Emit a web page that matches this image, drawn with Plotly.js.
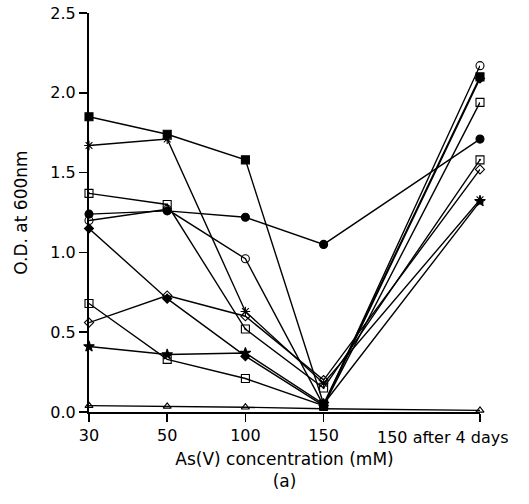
<!DOCTYPE html>
<html>
<head>
<meta charset="utf-8">
<script src="https://cdn.plot.ly/plotly-3.0.1.min.js"></script>
<style>html,body{margin:0;padding:0;background:#fff;}#chart{width:529px;height:504px;}</style>
</head>
<body>
<div id="chart"></div>
<script>
// x positions of the categories (the last category sits two steps further)
const xPos = [0, 1, 2, 3, 5];
const tickLabels = ['30', '50', '100', '150', '150 after 4 days'];

const filledSquare  = [1.85, 1.74, 1.58, 0.05, 2.10];
const asteriskS     = [1.67, 1.71, 0.63, 0.18, 1.33];
const boxedSquare   = [1.37, 1.30, 0.52, 0.15, 1.58];
const filledCircle  = [1.24, 1.26, 1.22, 1.05, 1.71];
const openCircle    = [1.20, 1.27, 0.96, 0.04, 2.17];
const filledDiamond = [1.15, 0.71, 0.35, 0.04, 2.09];
const openSquare    = [0.68, 0.33, 0.21, 0.04, 1.94];
const openDiamond   = [0.56, 0.73, 0.60, 0.20, 1.52];
const starS         = [0.41, 0.36, 0.37, 0.05, 1.32];
const openTriangle  = [0.04, 0.035, 0.03, 0.02, 0.01];

const seriesList = [
  {y: filledSquare, sym: 'square', size: 8},
  {y: asteriskS, sym: 'asterisk-open', size: 8},
  {y: boxedSquare, sym: 'square-open-dot', size: 8},
  {y: filledCircle, sym: 'circle', size: 8},
  {y: openCircle, sym: 'circle-open', size: 8},
  {y: filledDiamond, sym: 'diamond', size: 7},
  {y: openSquare, sym: 'square-open', size: 8},
  {y: openDiamond, sym: 'diamond-open', size: 7},
  {y: starS, sym: 'star', size: 8},
  {y: openTriangle, sym: 'triangle-up-open', size: 7}
];

const traces = seriesList.map(s => ({
  x: xPos, y: s.y, type: 'scatter', mode: 'lines+markers',
  line: {color: '#000', width: 1.4},
  marker: {symbol: s.sym, size: s.size, color: '#000', line: {color: '#000', width: 1.1}},
  cliponaxis: false, showlegend: false, hoverinfo: 'skip'
}));

const tickFont = {family: 'DejaVu Sans, Verdana, sans-serif', size: 16, color: '#000'};
const titleFont = {family: 'DejaVu Sans, Verdana, sans-serif', size: 17, color: '#000'};

const layout = {
  width: 529, height: 504,
  margin: {l: 89, r: 49, t: 13, b: 92},
  paper_bgcolor: '#fff', plot_bgcolor: '#fff',
  font: tickFont,
  showlegend: false,
  xaxis: {
    range: [0, 5], tickmode: 'array', tickvals: xPos,
    ticktext: ['30', '50', '100', '150', ''],
    ticks: 'outside', ticklen: 8, tickwidth: 1.5, tickcolor: '#000',
    showline: true, linecolor: '#000', linewidth: 2,
    showgrid: false, zeroline: false,
    tickfont: tickFont,
    title: {text: 'As(V) concentration (mM)<br>(a)', font: titleFont, standoff: 9}
  },
  yaxis: {
    range: [0, 2.5], tickmode: 'array', tickvals: [0, 0.5, 1, 1.5, 2, 2.5],
    ticktext: ['0.0', '0.5', '1.0', '1.5', '2.0', '2.5'],
    ticks: 'outside', ticklen: 8, tickwidth: 1.5, tickcolor: '#000',
    showline: true, linecolor: '#000', linewidth: 2,
    showgrid: false, zeroline: false,
    tickfont: tickFont,
    title: {text: 'O.D. at 600nm', font: titleFont, standoff: 18}
  },
  annotations: [{
    x: 4.53, y: 0, xref: 'x', yref: 'paper', yshift: -25,
    text: tickLabels[4], showarrow: false, font: tickFont,
    xanchor: 'center', yanchor: 'middle'
  }]
};

Plotly.newPlot('chart', traces, layout, {staticPlot: true, displayModeBar: false});
</script>
</body>
</html>
